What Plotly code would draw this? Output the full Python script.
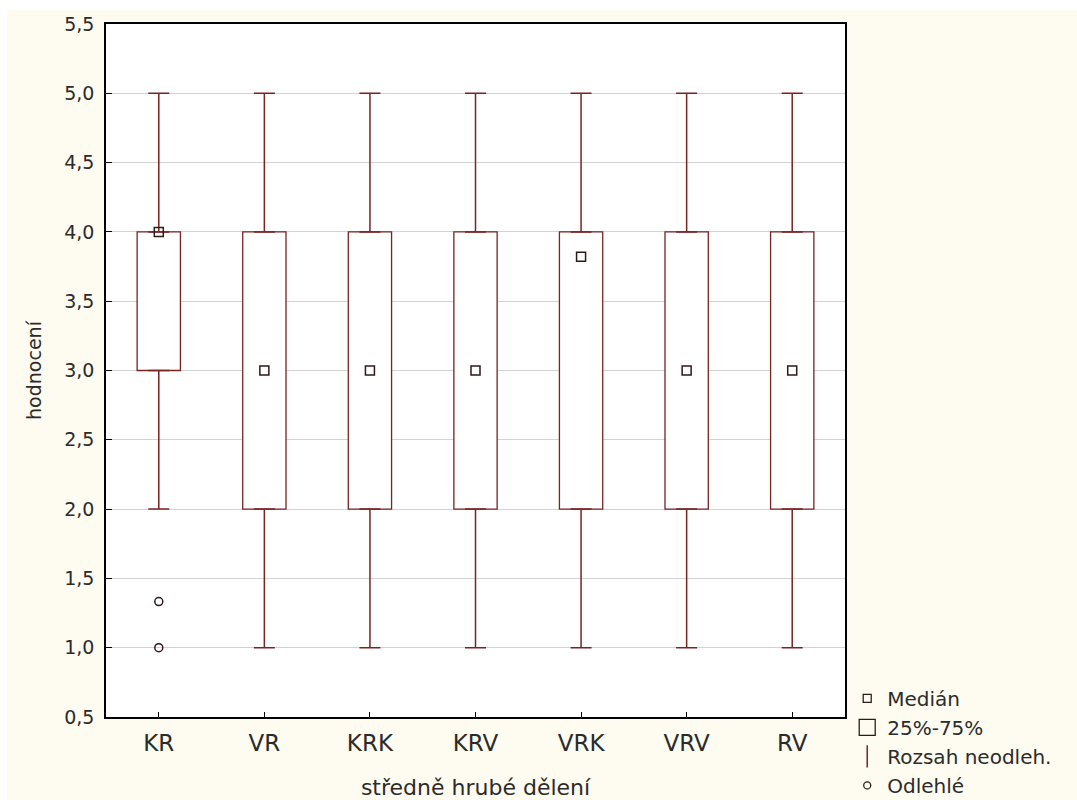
import plotly.graph_objects as go

categories = ["KR", "VR", "KRK", "KRV", "VRK", "VRV", "RV"]
minimum = [2.0, 1.0, 1.0, 1.0, 1.0, 1.0, 1.0]
q1 = [3.0, 2.0, 2.0, 2.0, 2.0, 2.0, 2.0]
median = [4.0, 3.0, 3.0, 3.0, 3.82, 3.0, 3.0]
q3 = [4.0, 4.0, 4.0, 4.0, 4.0, 4.0, 4.0]
maximum = [5.0, 5.0, 5.0, 5.0, 5.0, 5.0, 5.0]
outlier_x = ["KR", "KR"]
outlier_y = [1.333, 1.0]

y_ticks = [0.5, 1.0, 1.5, 2.0, 2.5, 3.0, 3.5, 4.0, 4.5, 5.0, 5.5]

LINE = "#7A2323"
DARK = "#2E1A1A"
TXT = "#2B2B2B"
FONT = "DejaVu Sans"

fig = go.Figure()

# boxes 25%-75%
fig.add_trace(go.Bar(
    x=categories, y=[b - a for a, b in zip(q1, q3)], base=q1, width=0.41,
    marker=dict(color="white", line=dict(color=LINE, width=1.3)),
    showlegend=False, hoverinfo="skip"))

# upper whiskers
fig.add_trace(go.Scatter(
    x=categories, y=q3, mode="markers", marker=dict(size=1, opacity=0),
    error_y=dict(type="data", symmetric=False,
                 array=[m - b for m, b in zip(maximum, q3)],
                 arrayminus=[0] * len(q3), color=LINE, thickness=1.5, width=10.5),
    showlegend=False, hoverinfo="skip"))
# lower whiskers
fig.add_trace(go.Scatter(
    x=categories, y=q1, mode="markers", marker=dict(size=1, opacity=0),
    error_y=dict(type="data", symmetric=False,
                 array=[0] * len(q1),
                 arrayminus=[a - m for a, m in zip(q1, minimum)],
                 color=LINE, thickness=1.5, width=10.5),
    showlegend=False, hoverinfo="skip"))

# medians
fig.add_trace(go.Scatter(
    x=categories, y=median, mode="markers",
    marker=dict(symbol="square-open", size=9, color=DARK, line=dict(width=1.5, color=DARK)),
    showlegend=False))

# outliers
fig.add_trace(go.Scatter(
    x=outlier_x, y=outlier_y, mode="markers",
    marker=dict(symbol="circle-open", size=8, color=DARK, line=dict(width=1.5, color=DARK)),
    showlegend=False))

# legend entries
fig.add_trace(go.Scatter(x=[None], y=[None], mode="markers", name="Medián",
                         marker=dict(symbol="square-open", size=8, color=DARK, line=dict(width=1.3))))
fig.add_trace(go.Scatter(x=[None], y=[None], mode="markers", name="25%-75%",
                         marker=dict(symbol="square-open", size=16, color=DARK, line=dict(width=1.3))))
fig.add_trace(go.Scatter(x=[None], y=[None], mode="markers", name="Rozsah neodleh.",
                         marker=dict(symbol="line-ns-open", size=16, color=LINE, line=dict(width=1.5, color=LINE))))
fig.add_trace(go.Scatter(x=[None], y=[None], mode="markers", name="Odlehlé",
                         marker=dict(symbol="circle-open", size=7, color=DARK, line=dict(width=1.3))))

fig.update_layout(
    width=1077, height=800,
    margin=dict(l=106, r=232, t=24, b=83, autoexpand=False),
    paper_bgcolor="white", plot_bgcolor="white",
    separators=", ",
    font=dict(family=FONT, color=TXT),
    barmode="overlay",
    showlegend=True,
    legend=dict(x=1.003, y=0.055, xanchor="left", yanchor="top",
                font=dict(family=FONT, size=20, color=TXT),
                bgcolor="rgba(0,0,0,0)", itemsizing="trace", itemwidth=30,
                tracegroupgap=0),
    shapes=[dict(type="rect", xref="paper", yref="paper",
                 x0=(7 - 106) / 739, x1=(1077 - 106) / 739,
                 y0=(717 - 800) / 693, y1=(717 - 10) / 693,
                 fillcolor="#FEFBF0", line=dict(width=0), layer="below")],
)

fig.update_xaxes(
    type="category", categoryorder="array", categoryarray=categories,
    range=[-0.5, 6.5], showgrid=False,
    showline=True, mirror=True, linecolor="black", linewidth=1.5,
    ticks="inside", ticklen=5, tickcolor="black",
    tickfont=dict(family=FONT, size=23, color=TXT), ticklabelstandoff=5,
    title=dict(text="středně hrubé dělení", font=dict(family=FONT, size=22, color=TXT), standoff=30),
)
fig.update_yaxes(
    range=[0.5, 5.5], tickvals=y_ticks, tickformat=".1f",
    showgrid=True, gridcolor="#D3D3D3", gridwidth=1,
    showline=True, mirror=True, linecolor="black", linewidth=1.5,
    ticks="inside", ticklen=6, tickcolor="black", zeroline=False,
    tickfont=dict(family=FONT, size=19, color=TXT), ticklabelstandoff=6,
    title=dict(text="hodnocení", font=dict(family=FONT, size=19, color=TXT), standoff=18),
)

# make plot area background white over cream paper
fig.add_shape(type="rect", xref="paper", yref="paper", x0=0, x1=1, y0=0, y1=1,
              fillcolor="white", line=dict(width=0), layer="below")

fig.write_html("out.html")
